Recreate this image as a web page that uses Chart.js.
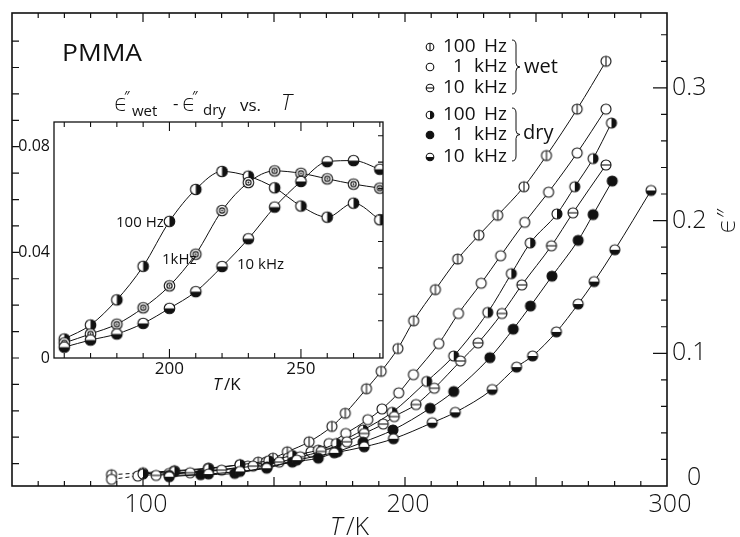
<!DOCTYPE html>
<html>
<head>
<meta charset="utf-8">
<script src="https://cdn.jsdelivr.net/npm/chart.js@4.4.1/dist/chart.umd.min.js"></script>
<style>
  html, body { margin: 0; padding: 0; background: #fff; }
  #wrap { position: relative; width: 740px; height: 537px; }
  #wrap canvas { position: absolute; left: 0; top: 0; }
</style>
</head>
<body>
<div id="wrap">
  <canvas id="main" width="740" height="537"></canvas>
  <canvas id="inset" width="740" height="537"></canvas>
</div>
<script>
// eps'' of PMMA vs T, wet samples
var wet100T = [88, 100, 112, 125, 137, 144, 149.6, 155.1, 163.4, 172.1, 177.2, 185.3, 190.9, 197.3, 203.3, 211.6, 220.1, 228.2, 235.4, 245.4, 254, 265.7, 276.7];
var wet100E = [0.0085, 0.010, 0.0115, 0.0135, 0.016, 0.018, 0.021, 0.0258, 0.0333, 0.0449, 0.0548, 0.0733, 0.0864, 0.1036, 0.1245, 0.148, 0.171, 0.189, 0.204, 0.2255, 0.249, 0.284, 0.320];
var wet1kT = [88, 98, 110, 125, 140, 147, 155.3, 164.1, 171, 177.4, 185.8, 191.2, 197.6, 203.2, 212.9, 220.4, 229.1, 236.5, 245.7, 254.8, 265.7, 276.7];
var wet1kE = [0.005, 0.0075, 0.0095, 0.0115, 0.015, 0.018, 0.021, 0.0258, 0.032, 0.0396, 0.050, 0.0581, 0.0702, 0.0839, 0.1073, 0.130, 0.1528, 0.1735, 0.1987, 0.2214, 0.251, 0.284];
var wet10kT = [105, 118, 130, 142, 152, 160, 168, 177.8, 184.4, 191.7, 195.9, 204.2, 211.2, 221.2, 227.9, 237, 244.6, 255.9, 264.1, 276.7];
var wet10kE = [0.008, 0.010, 0.012, 0.015, 0.018, 0.022, 0.026, 0.0333, 0.0396, 0.0467, 0.0523, 0.0614, 0.0737, 0.0942, 0.1078, 0.130, 0.1515, 0.181, 0.2058, 0.2419];

// eps'' of PMMA vs T, dry samples
var dry100T = [100, 112, 125, 137, 148, 157, 166.9, 173.8, 184, 195.1, 208.3, 218.6, 231.6, 240.6, 247.8, 258, 264.8, 271.8, 278.8];
var dry100E = [0.009, 0.011, 0.013, 0.016, 0.019, 0.023, 0.027, 0.032, 0.0422, 0.0555, 0.0788, 0.098, 0.1308, 0.160, 0.1831, 0.205, 0.2255, 0.2467, 0.2735];
var dry1kT = [110, 122, 135, 147.4, 157, 166.9, 174.2, 184, 195.4, 209.6, 218.6, 232.4, 241.3, 247.9, 256.1, 266.1, 271.8, 279.1];
var dry1kE = [0.008, 0.0085, 0.0095, 0.0144, 0.018, 0.021, 0.0258, 0.033, 0.0422, 0.0586, 0.0712, 0.0967, 0.1182, 0.1356, 0.1581, 0.1851, 0.2045, 0.2298];
var dry10kT = [110, 125, 137, 147.2, 158.7, 173, 184.4, 195.6, 210.4, 219.2, 233.3, 242.6, 248.7, 257.8, 266.1, 272.2, 280.1, 293.9];
var dry10kE = [0.007, 0.009, 0.011, 0.0134, 0.0195, 0.025, 0.0295, 0.0356, 0.0477, 0.0555, 0.0727, 0.0896, 0.098, 0.1161, 0.1371, 0.154, 0.178, 0.2227];

// inset: eps''wet - eps''dry
var insetT = [160, 170, 180, 190, 200, 210, 220, 230, 240, 250, 260, 270, 280];
var diff100 = [0.0072, 0.0125, 0.022, 0.0347, 0.0517, 0.0638, 0.0706, 0.0688, 0.0644, 0.0575, 0.0533, 0.0586, 0.0523];
var diff1k = [0.0057, 0.0091, 0.0128, 0.019, 0.0273, 0.0393, 0.0558, 0.0664, 0.0708, 0.0699, 0.0678, 0.0658, 0.0643];
var diff10k = [0.0041, 0.0068, 0.0091, 0.0131, 0.0188, 0.0251, 0.0346, 0.0451, 0.0571, 0.0668, 0.0743, 0.0747, 0.0714];

// tick labels
var mainXLabels = [100, 200, 300];
var mainYLabels = [0.1, 0.2, 0.3];
var insetXLabels = [200, 250];
var insetYLabels = [0, 0.04, 0.08];

var FONT = '"Open Sans", "DejaVu Sans", sans-serif';
var INK = '#111';

function pts(xs, ys) {
  return xs.map(function (x, i) { return { x: x, y: ys[i] }; });
}

// little circle markers, drawn once and used as pointStyle images
function marker(kind, r) {
  var s = Math.ceil(r * 2 + 4), c = document.createElement('canvas');
  c.width = s; c.height = s;
  var g = c.getContext('2d'), m = s / 2;
  g.lineWidth = 1.1; g.strokeStyle = INK; g.fillStyle = '#fff';
  g.beginPath(); g.arc(m, m, r, 0, Math.PI * 2); g.fill();
  g.fillStyle = INK;
  if (kind === 'filled') { g.beginPath(); g.arc(m, m, r, 0, Math.PI * 2); g.fill(); }
  if (kind === 'halfRight') { g.beginPath(); g.arc(m, m, r, -Math.PI / 2, Math.PI / 2); g.closePath(); g.fill(); }
  if (kind === 'halfBottom') { g.beginPath(); g.arc(m, m, r, 0, Math.PI); g.closePath(); g.fill(); }
  g.beginPath(); g.arc(m, m, r, 0, Math.PI * 2); g.stroke();
  if (kind === 'vline') { g.beginPath(); g.moveTo(m, m - r); g.lineTo(m, m + r); g.stroke(); }
  if (kind === 'hline') { g.beginPath(); g.moveTo(m - r, m); g.lineTo(m + r, m); g.stroke(); }
  if (kind === 'ring') {
    g.beginPath(); g.arc(m, m, r * 0.5, 0, Math.PI * 2); g.stroke();
    g.beginPath(); g.arc(m, m, 0.9, 0, Math.PI * 2); g.fill();
  }
  return c;
}

function txt(ctx, s, x, y, size, o) {
  o = o || {};
  ctx.save();
  ctx.font = (o.italic ? 'italic ' : '') + (o.weight || 400) + ' ' + size + 'px ' + FONT;
  ctx.fillStyle = INK;
  ctx.textAlign = o.align || 'left';
  ctx.textBaseline = o.base || 'middle';
  ctx.translate(x, y);
  if (o.rot) ctx.rotate(o.rot);
  if (o.sx) ctx.scale(o.sx, 1);
  ctx.fillText(s, 0, 0);
  ctx.restore();
}

function brace(ctx, x, top, bottom) {
  var mid = (top + bottom) / 2;
  ctx.beginPath();
  ctx.moveTo(x - 4, top);
  ctx.quadraticCurveTo(x, top, x, top + 5);
  ctx.lineTo(x, mid - 4);
  ctx.quadraticCurveTo(x, mid, x + 4, mid);
  ctx.quadraticCurveTo(x, mid, x, mid + 4);
  ctx.lineTo(x, bottom - 5);
  ctx.quadraticCurveTo(x, bottom, x - 4, bottom);
  ctx.stroke();
}

function series(xs, ys, kind, r) {
  return {
    data: pts(xs, ys),
    showLine: true,
    borderColor: INK,
    borderWidth: 1,
    cubicInterpolationMode: 'monotone',
    pointStyle: marker(kind, r),
    pointRadius: r,
    segment: {
      borderDash: function (c) { return c.p1.parsed.x <= 101 ? [4, 3] : undefined; }
    }
  };
}

// frame, inward ticks, labels and legend of the main plot
var mainDecor = {
  id: 'mainDecor',
  afterDraw: function (chart) {
    var ctx = chart.ctx, a = chart.chartArea;
    var sx = chart.scales.x, sy = chart.scales.y, sl = chart.scales.yl;
    ctx.save();
    ctx.strokeStyle = INK;
    ctx.lineWidth = 1.6;
    ctx.strokeRect(a.left, a.top, a.right - a.left, a.bottom - a.top);
    ctx.lineWidth = 1.2;
    ctx.beginPath();
    for (var t = 60; t < 300; t += 10) {
      var px = sx.getPixelForValue(t), len = t % 50 === 0 ? 9 : 5;
      ctx.moveTo(px, a.bottom); ctx.lineTo(px, a.bottom - len);
      ctx.moveTo(px, a.top); ctx.lineTo(px, a.top + len);
    }
    for (var i = 1; i <= 17; i++) {
      var py = sy.getPixelForValue(i * 0.02), ln = i % 5 === 0 ? 14 : 6;
      ctx.moveTo(a.right, py); ctx.lineTo(a.right - ln, py);
    }
    for (var j = -4; j <= 12; j++) {
      var ly = sl.getPixelForValue(j * 0.01);
      ctx.moveTo(a.left, ly); ctx.lineTo(a.left + 7, ly);
    }
    ctx.stroke();

    mainXLabels.forEach(function (v) {
      txt(ctx, String(v), sx.getPixelForValue(v) + 3, a.bottom + 19, 25, { align: 'center', weight: 300 });
    });
    mainYLabels.forEach(function (v) {
      txt(ctx, String(v), a.right + 5, sy.getPixelForValue(v), 25, { weight: 300 });
    });
    txt(ctx, '0', a.right + 20, sy.getPixelForValue(0) - 8, 25, { weight: 300 });

    txt(ctx, 'T', 330, 528, 25, { italic: true, weight: 300 });
    txt(ctx, '/K', 346, 528, 25, { weight: 300 });
    txt(ctx, 'ϵ″', 728, 221, 25, { align: 'center', rot: -Math.PI / 2, weight: 300 });

    txt(ctx, 'PMMA', 62, 54, 24, { sx: 1.1 });

    // legend
    var rows = [47, 67, 88, 115, 135, 157];
    var nums = ['100', '1', '10', '100', '1', '10'];
    var units = ['Hz', 'kHz', 'kHz', 'Hz', 'kHz', 'kHz'];
    var kinds = ['vline', 'open', 'hline', 'halfRight', 'filled', 'halfBottom'];
    rows.forEach(function (y, k) {
      var m = marker(kinds[k], 3.8);
      ctx.drawImage(m, 430 - m.width / 2, y - m.height / 2);
      txt(ctx, nums[k], nums[k] === '1' ? 453 : 443, y, 19, {});
      txt(ctx, units[k], 507, y, 19, { align: 'right' });
    });
    ctx.lineWidth = 1;
    brace(ctx, 516, 40, 94);
    brace(ctx, 516, 108, 161);
    txt(ctx, 'wet', 524, 67, 20, {});
    txt(ctx, 'dry', 523, 133, 20, {});
    ctx.restore();
  }
};

// frame, ticks and labels of the inset
var insetDecor = {
  id: 'insetDecor',
  afterDraw: function (chart) {
    var ctx = chart.ctx, a = chart.chartArea;
    var sx = chart.scales.x, sy = chart.scales.y, sr = chart.scales.yr;
    ctx.save();
    ctx.strokeStyle = INK;
    ctx.lineWidth = 1.3;
    ctx.strokeRect(a.left, a.top, a.right - a.left, a.bottom - a.top);
    ctx.lineWidth = 1.1;
    ctx.beginPath();
    for (var t = 160; t <= 280; t += 10) {
      var px = sx.getPixelForValue(t), len = t % 50 === 0 ? 9 : 5;
      ctx.moveTo(px, a.bottom); ctx.lineTo(px, a.bottom - len);
      ctx.moveTo(px, a.top); ctx.lineTo(px, a.top + len);
    }
    for (var i = 1; i <= 8; i++) {
      var py = sr.getPixelForValue(i * 0.01);
      ctx.moveTo(a.right, py); ctx.lineTo(a.right - 5, py);
    }
    ctx.stroke();

    insetXLabels.forEach(function (v) {
      txt(ctx, String(v), sx.getPixelForValue(v), a.bottom + 11, 17, { align: 'center' });
    });
    insetYLabels.forEach(function (v) {
      txt(ctx, v === 0 ? '0' : v.toFixed(2), a.left - 4, sy.getPixelForValue(v), 16, { align: 'right' });
    });
    txt(ctx, 'T', 213, 385, 17, { italic: true });
    txt(ctx, '/K', 224, 385, 17, {});

    // title: eps''wet - eps''dry vs. T
    txt(ctx, 'ϵ', 114, 104, 23, { weight: 300 });
    txt(ctx, '″', 124, 97, 14, {});
    txt(ctx, 'wet', 132, 112, 15, {});
    txt(ctx, '-', 173, 104, 17, {});
    txt(ctx, 'ϵ', 182, 104, 23, { weight: 300 });
    txt(ctx, '″', 192, 97, 14, {});
    txt(ctx, 'dry', 203, 111, 15, {});
    txt(ctx, 'vs.', 240, 106, 17, {});
    txt(ctx, 'T', 281, 104, 22, { italic: true, weight: 300 });

    txt(ctx, '100 Hz', 116, 223, 15, {});
    txt(ctx, '1kHz', 162, 260, 15, {});
    txt(ctx, '10 kHz', 237, 265, 15, {});
    ctx.restore();
  }
};

var common = {
  responsive: false,
  animation: false,
  events: [],
  plugins: { legend: { display: false }, tooltip: { enabled: false } }
};

new Chart(document.getElementById('main'), {
  type: 'scatter',
  data: {
    datasets: [
      series(dry10kT, dry10kE, 'halfBottom', 5),
      series(dry1kT, dry1kE, 'filled', 5),
      series(wet10kT, wet10kE, 'hline', 5),
      series(dry100T, dry100E, 'halfRight', 5),
      series(wet1kT, wet1kE, 'open', 5),
      series(wet100T, wet100E, 'vline', 5)
    ]
  },
  options: Object.assign({}, common, {
    layout: { padding: { left: 12, top: 13, right: 73, bottom: 51 } },
    scales: {
      x: { type: 'linear', display: false, min: 50, max: 300 },
      y: { type: 'linear', display: false, min: 0, max: 0.3564 },
      yl: { type: 'linear', display: false, min: -0.04847, max: 0.13063 }
    }
  }),
  plugins: [mainDecor]
});

new Chart(document.getElementById('inset'), {
  type: 'scatter',
  data: {
    datasets: [
      series(insetT, diff10k, 'halfBottom', 5.3),
      series(insetT, diff1k, 'ring', 5.3),
      series(insetT, diff100, 'halfRight', 5.3)
    ]
  },
  options: Object.assign({}, common, {
    layout: { padding: { left: 54, top: 122, right: 357, bottom: 179 } },
    scales: {
      x: { type: 'linear', display: false, min: 156.1, max: 281.2 },
      y: { type: 'linear', display: false, min: 0, max: 0.0893 },
      yr: { type: 'linear', display: false, min: -0.0041, max: 0.0852 }
    }
  }),
  plugins: [insetDecor]
});
</script>
</body>
</html>
